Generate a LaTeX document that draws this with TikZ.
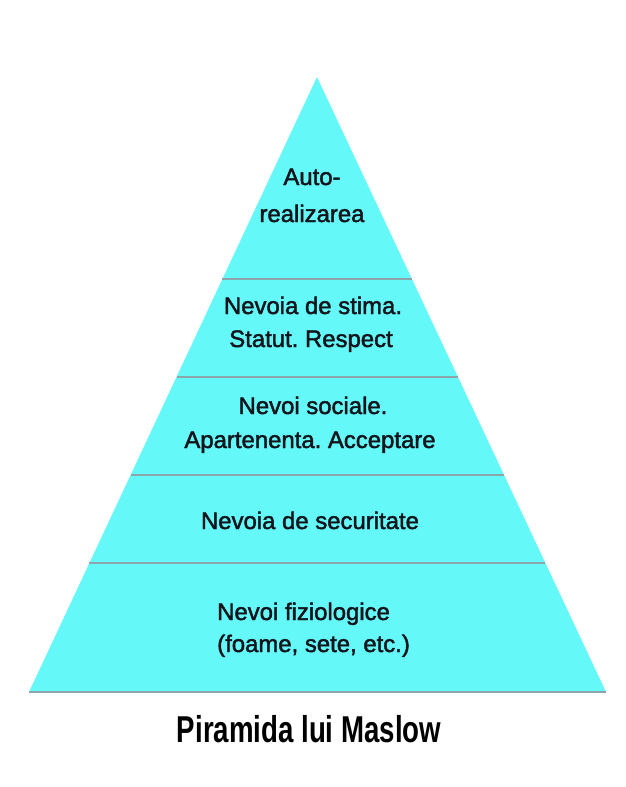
\documentclass[tikz,border=0pt]{standalone}
\usepackage{fontspec}
\usetikzlibrary{calc}
\setmainfont{Liberation Sans}
\newfontfamily\lvlfont[FakeBold=1.8]{Liberation Sans}
\newfontfamily\titlefont[FakeStretch=0.74]{Liberation Sans}
\definecolor{pyrfill}{RGB}{100,248,248}
\definecolor{pyrline}{RGB}{140,165,170}
\definecolor{txtcol}{RGB}{18,20,28}
\frenchspacing
\begin{document}
\begin{tikzpicture}[x=1bp,y=-1bp,
  lvltext/.style={anchor=base,inner sep=0pt,text=txtcol,font=\lvlfont\fontsize{24}{30}\selectfont},
  lvltextl/.style={lvltext,anchor=base west},
  divider/.style={draw=pyrline,line width=2.6bp},
  titletext/.style={anchor=base,inner sep=0pt,text=black,font=\titlefont\bfseries\fontsize{37.5}{40}\selectfont}]
\useasboundingbox (0,0) rectangle (626,787);
\fill[white] (0,0) rectangle (626,787);
% pyramid corners
\coordinate (apex) at (317,77);
\coordinate (bl) at (29,692);
\coordinate (br) at (606,692);
\fill[pyrfill] (apex) -- (br) -- (bl) -- cycle;
\draw[draw=pyrline,line width=1.6bp] (bl) -- (br);
% dividers: end points on the slanted sides
\foreach \yy/\nm in {279/d1,377/d2,475/d3,563/d4}{
  \coordinate (\nm l) at ($(apex)!{(\yy-77)/615}!(bl)$);
  \coordinate (\nm r) at ($(apex)!{(\yy-77)/615}!(br)$);
  \draw[divider] (\nm l) -- (\nm r);
}
% texts
\node[lvltext] (t1a) at (312,185) {Auto-};
\node[lvltext] (t1b) at (312,222) {realizarea};
\node[lvltext] (t2a) at (313,314) {Nevoia de stima.};
\node[lvltext] (t2b) at (311,347) {Statut. Respect};
\node[lvltext] (t3a) at (313,414) {Nevoi sociale.};
\node[lvltext] (t3b) at (310,448) {Apartenenta. Acceptare};
\node[lvltext] (t4) at (310,529) {Nevoia de securitate};
\node[lvltextl] (t5a) at (217,620) {Nevoi fiziologice};
\node[lvltextl] (t5b) at (217,652) {(foame, sete, etc.)};
\node[titletext] (title) at (309,742) {Piramida lui Maslow};
\end{tikzpicture}
\end{document}
